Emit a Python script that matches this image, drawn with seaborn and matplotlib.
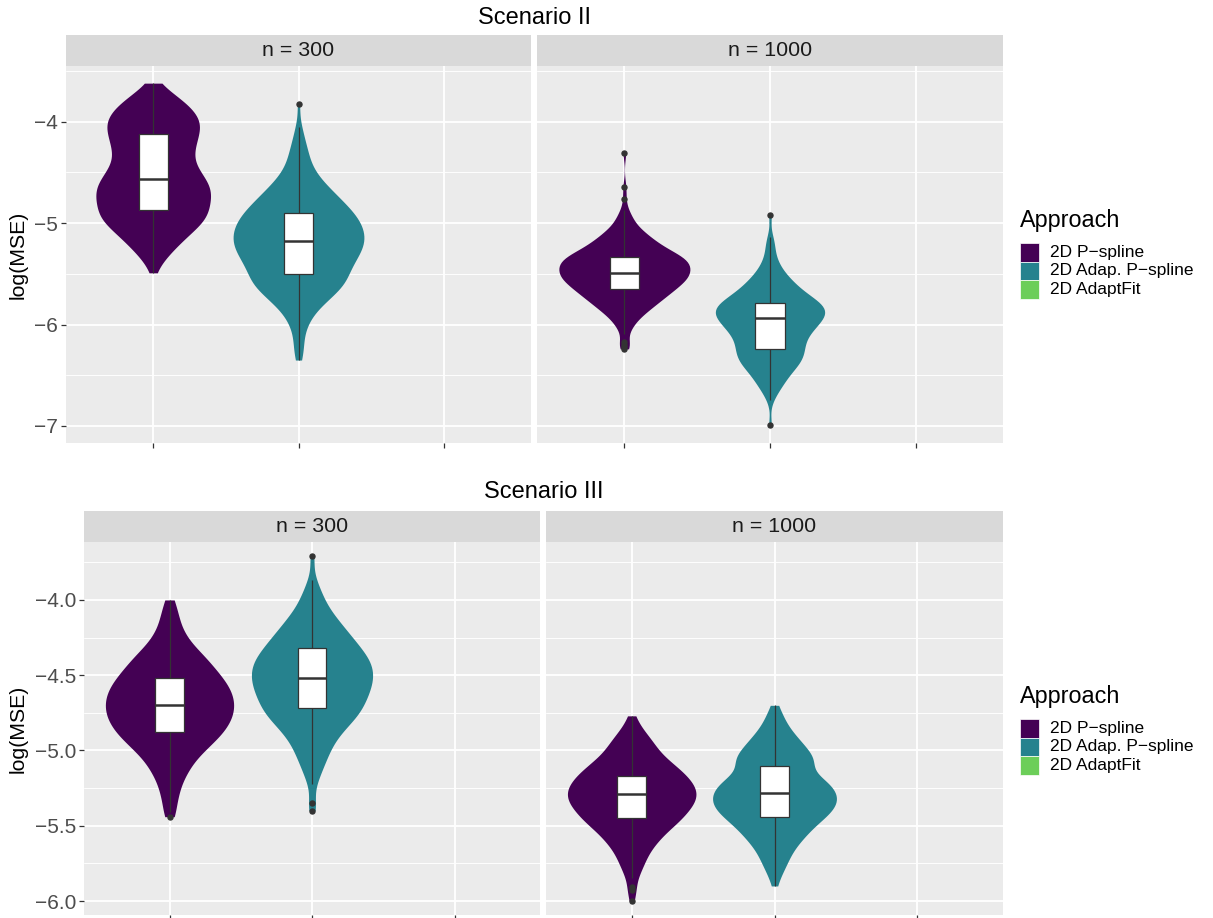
import numpy as np
import pandas as pd
import matplotlib
matplotlib.use("Agg")
import matplotlib.pyplot as plt
from matplotlib.patches import Rectangle
import seaborn as sns

# categories / labels
approaches = ["2D P\u2212spline", "2D Adap. P\u2212spline", "2D AdaptFit"]
approach_colors = ["#440154", "#26828E", "#6CCE59"]
scenarios = ["Scenario II", "Scenario III"]
sizes = ["n = 300", "n = 1000"]

s2_n300_pspl_vals = [-3.62, -3.67, -3.72, -3.77, -3.82, -3.87, -3.92, -3.97, -4.02, -4.07,
                     -4.12, -4.17, -4.22, -4.27, -4.32, -4.37, -4.42, -4.47, -4.52, -4.57,
                     -4.62, -4.67, -4.72, -4.77, -4.82, -4.87, -4.92, -4.97, -5.02, -5.07,
                     -5.12, -5.17, -5.22, -5.27, -5.32, -5.37, -5.42, -5.49]
s2_n300_pspl_cnts = [1, 2, 4, 6, 7, 8, 9, 10, 10, 10,
                     9, 9, 9, 8, 8, 8, 8, 9, 10, 11,
                     12, 12, 12, 12, 11, 11, 12, 11, 10, 8,
                     7, 6, 5, 4, 3, 2, 1, 1]

s2_n300_adap_vals = [-3.83, -4.05, -4.10, -4.15, -4.20, -4.25, -4.30, -4.35, -4.40, -4.45,
                     -4.50, -4.55, -4.60, -4.65, -4.70, -4.75, -4.80, -4.85, -4.90, -4.95,
                     -5.00, -5.05, -5.10, -5.15, -5.20, -5.25, -5.30, -5.35, -5.40, -5.45,
                     -5.50, -5.55, -5.60, -5.65, -5.70, -5.75, -5.80, -5.85, -5.90, -5.95,
                     -6.00, -6.05, -6.10, -6.15, -6.20, -6.25, -6.30, -6.35]
s2_n300_adap_cnts = [1, 1, 1, 1, 1, 2, 2, 2, 2, 3,
                     3, 4, 5, 6, 7, 8, 9, 10, 11, 12,
                     12, 13, 13, 13, 13, 13, 12, 11, 11, 10,
                     9, 10, 10, 8, 7, 6, 5, 3, 3, 2,
                     2, 1, 1, 1, 1, 1, 1, 1]

s2_n1000_pspl_vals = [-4.31, -4.64, -4.76, -4.87, -4.90, -4.93, -4.97, -5.01, -5.05, -5.09,
                      -5.13, -5.17, -5.21, -5.25, -5.29, -5.33, -5.37, -5.41, -5.45, -5.49,
                      -5.53, -5.57, -5.61, -5.65, -5.69, -5.73, -5.77, -5.81, -5.85, -5.89,
                      -5.93, -5.97, -6.01, -6.05, -6.09, -6.17, -6.20, -6.22, -6.24]
s2_n1000_pspl_cnts = [1, 1, 1, 1, 1, 1, 2, 2, 3, 4,
                      5, 6, 7, 8, 10, 12, 13, 13, 13, 13,
                      13, 12, 11, 10, 9, 8, 7, 6, 5, 4,
                      3, 2, 2, 1, 1, 1, 1, 1, 1]

s2_n1000_adap_vals = [-4.92, -5.14, -5.19, -5.24, -5.29, -5.34, -5.39, -5.44, -5.49, -5.54,
                      -5.59, -5.64, -5.69, -5.74, -5.79, -5.84, -5.89, -5.94, -5.99, -6.04,
                      -6.09, -6.14, -6.19, -6.24, -6.29, -6.34, -6.39, -6.44, -6.49, -6.54,
                      -6.59, -6.64, -6.69, -6.74, -6.99]
s2_n1000_adap_cnts = [1, 1, 1, 1, 1, 1, 2, 2, 3, 4,
                      5, 6, 7, 9, 11, 12, 12, 11, 10, 9,
                      8, 7, 7, 7, 7, 7, 6, 5, 4, 3,
                      3, 2, 1, 1, 1]

s3_n300_pspl_vals = [-4.00, -4.04, -4.10, -4.16, -4.22, -4.28, -4.34, -4.40, -4.46, -4.52,
                     -4.58, -4.64, -4.70, -4.76, -4.82, -4.88, -4.94, -5.00, -5.06, -5.12,
                     -5.18, -5.24, -5.30, -5.36, -5.41, -5.44]
s3_n300_pspl_cnts = [1, 1, 2, 2, 3, 4, 6, 8, 9, 11,
                     12, 13, 13, 13, 12, 11, 9, 7, 5, 4,
                     3, 2, 2, 1, 1, 1]

s3_n300_adap_vals = [-3.71, -3.87, -3.92, -3.97, -4.02, -4.07, -4.12, -4.17, -4.22, -4.27,
                     -4.32, -4.37, -4.42, -4.47, -4.52, -4.57, -4.62, -4.67, -4.72, -4.77,
                     -4.82, -4.87, -4.92, -4.97, -5.02, -5.07, -5.12, -5.17, -5.22, -5.35,
                     -5.40]
s3_n300_adap_cnts = [1, 1, 1, 2, 2, 3, 4, 5, 6, 7,
                     8, 9, 10, 10, 10, 10, 9, 9, 8, 8,
                     6, 5, 4, 3, 3, 2, 2, 1, 1, 1,
                     1]

s3_n1000_pspl_vals = [-4.77, -4.81, -4.85, -4.89, -4.93, -4.97, -5.01, -5.05, -5.09, -5.13,
                      -5.17, -5.21, -5.25, -5.29, -5.33, -5.37, -5.41, -5.45, -5.49, -5.53,
                      -5.57, -5.61, -5.65, -5.69, -5.73, -5.77, -5.81, -5.85, -5.91, -5.93,
                      -6.00]
s3_n1000_pspl_cnts = [1, 1, 2, 3, 4, 5, 5, 7, 8, 10,
                      11, 12, 13, 13, 13, 12, 11, 10, 9, 7,
                      6, 5, 4, 3, 3, 2, 2, 1, 1, 1,
                      1]

s3_n1000_adap_vals = [-4.70, -4.74, -4.78, -4.82, -4.86, -4.90, -4.94, -4.98, -5.02, -5.06,
                      -5.10, -5.16, -5.20, -5.24, -5.28, -5.32, -5.36, -5.40, -5.44, -5.48,
                      -5.52, -5.56, -5.60, -5.64, -5.68, -5.72, -5.76, -5.80, -5.84, -5.90]
s3_n1000_adap_cnts = [1, 1, 2, 2, 3, 4, 5, 6, 7, 8,
                      9, 9, 10, 11, 12, 12, 12, 11, 10, 8,
                      7, 6, 5, 4, 3, 3, 2, 2, 1, 1]

groups = [
    ("Scenario II", "n = 300", approaches[0], s2_n300_pspl_vals, s2_n300_pspl_cnts),
    ("Scenario II", "n = 300", approaches[1], s2_n300_adap_vals, s2_n300_adap_cnts),
    ("Scenario II", "n = 1000", approaches[0], s2_n1000_pspl_vals, s2_n1000_pspl_cnts),
    ("Scenario II", "n = 1000", approaches[1], s2_n1000_adap_vals, s2_n1000_adap_cnts),
    ("Scenario III", "n = 300", approaches[0], s3_n300_pspl_vals, s3_n300_pspl_cnts),
    ("Scenario III", "n = 300", approaches[1], s3_n300_adap_vals, s3_n300_adap_cnts),
    ("Scenario III", "n = 1000", approaches[0], s3_n1000_pspl_vals, s3_n1000_pspl_cnts),
    ("Scenario III", "n = 1000", approaches[1], s3_n1000_adap_vals, s3_n1000_adap_cnts),
]

rows = []
for scen, n, app, vals, cnts in groups:
    for v, c in zip(vals, cnts):
        rows += [(scen, n, app, v)] * c
df = pd.DataFrame(rows, columns=["scenario", "n", "approach", "logmse"])

# --- style ---
sns.set_theme(style="darkgrid", rc={"axes.facecolor": "#EBEBEB", "grid.color": "white"})
plt.rcParams['font.family'] = ['Liberation Sans', 'DejaVu Sans']

W, H = 1213, 918
fig = plt.figure(figsize=(W / 100, H / 100), dpi=100)
fig.patch.set_facecolor("white")


def fx(x):
    return x / W


def fy(y):
    return 1 - y / H


panels = {
    ("Scenario II", "n = 300"): (66, 66, 531, 443),
    ("Scenario II", "n = 1000"): (537, 66, 1003, 443),
    ("Scenario III", "n = 300"): (84, 542, 540, 915),
    ("Scenario III", "n = 1000"): (546, 542, 1003, 915),
}
ylims = {"Scenario II": (-7.168, -3.451), "Scenario III": (-6.093, -3.615)}
yticks = {"Scenario II": [-7, -6, -5, -4], "Scenario III": [-6.0, -5.5, -5.0, -4.5, -4.0]}
yminor = {"Scenario II": [-6.5, -5.5, -4.5, -3.5],
          "Scenario III": [-5.75, -5.25, -4.75, -4.25, -3.75]}
title_y = {"Scenario II": 18, "Scenario III": 492}
legend_y = {"Scenario II": 0, "Scenario III": 476}
palette = dict(zip(approaches, approach_colors))

for (scen, n), (x0, y0, x1, y1) in panels.items():
    ax = fig.add_axes([fx(x0), fy(y1), fx(x1 - x0), (y1 - y0) / H])
    sub = df[(df["scenario"] == scen) & (df["n"] == n)]

    sns.violinplot(data=sub, x="approach", y="logmse", hue="approach",
                   order=approaches, hue_order=approaches, palette=palette,
                   cut=0, inner=None, linewidth=0, width=0.9, saturation=1,
                   density_norm="area", common_norm=True, bw_method=0.24,
                   legend=False, ax=ax)
    sns.boxplot(data=sub, x="approach", y="logmse", order=approaches,
                width=0.2, color="white", linecolor="#333333", linewidth=0.9,
                saturation=1, fliersize=3.6,
                flierprops={"marker": "o", "markerfacecolor": "#333333",
                            "markeredgecolor": "#333333"},
                medianprops={"linewidth": 1.8},
                capprops={"visible": False}, ax=ax)

    ax.set_xlim(-0.6, 2.6)
    ax.set_ylim(*ylims[scen])
    ax.set_yticks(yticks[scen])
    ax.set_yticks(yminor[scen], minor=True)
    ax.set_xticks([0, 1, 2])
    ax.set_xticklabels([])
    ax.set_xlabel("")
    ax.set_ylabel("")
    ax.set_axisbelow(True)
    ax.grid(True, which="major", color="white", linewidth=1.3)
    ax.yaxis.grid(True, which="minor", color="white", linewidth=0.65)
    for sp in ax.spines.values():
        sp.set_visible(False)
    ax.tick_params(axis="both", which="major", length=3.5, width=0.9, color="#333333",
                   labelsize=15, labelcolor="#4D4D4D", pad=2, left=True, bottom=True)
    ax.tick_params(axis="y", which="minor", length=0)
    if n != "n = 300":
        ax.tick_params(axis="y", left=False, labelleft=False)

    # facet strip
    fig.add_artist(Rectangle((fx(x0), fy(y0)), fx(x1 - x0), 31 / H,
                             transform=fig.transFigure, facecolor="#D9D9D9",
                             edgecolor="none"))
    fig.text(fx((x0 + x1) / 2), fy(y0 - 15.5), n, ha="center", va="center",
             fontsize=15.4, color="#1A1A1A")

for scen in scenarios:
    left = panels[(scen, "n = 300")]
    right = panels[(scen, "n = 1000")]
    fig.text(fx((left[0] + right[2]) / 2), fy(title_y[scen]), scen,
             ha="center", va="center", fontsize=17, color="black")
    fig.text(fx(18), fy((left[1] + left[3]) / 2), "log(MSE)", rotation=90,
             ha="center", va="center", fontsize=15.3, color="black")

    # legend
    dy = legend_y[scen]
    fig.text(fx(1020), fy(221 + dy), "Approach", ha="left", va="center",
             fontsize=16.8, color="black")
    for i, (app, col) in enumerate(zip(approaches, approach_colors)):
        top = 243 + dy + i * 18.5
        fig.add_artist(Rectangle((fx(1020), fy(top + 18.5)), fx(19), 18.5 / H,
                                 transform=fig.transFigure, facecolor=col,
                                 edgecolor="white", linewidth=0.5))
        fig.text(fx(1050), fy(top + 9.5), app, ha="left", va="center",
                 fontsize=12.5, color="black")

fig.savefig("out.png", dpi=100)
